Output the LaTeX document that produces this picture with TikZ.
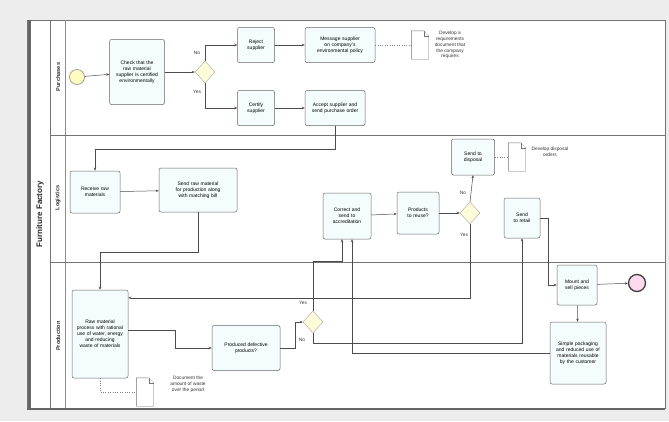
\documentclass[tikz,border=0pt]{standalone}
\usepackage{fontspec}
\setmainfont{Liberation Sans}
\usetikzlibrary{arrows.meta,calc,shapes.geometric}
\hyphenpenalty=10000
\exhyphenpenalty=10000
\begin{document}
\begin{tikzpicture}[x=1pt,y=-1pt,
  task/.style={draw=black!60,rounded corners=2pt,fill=cyan!4,align=center,
    font=\fontsize{5}{6}\selectfont,inner sep=1pt,line width=0.5pt},
  gw/.style={diamond,draw=black!35,fill=yellow!15,minimum width=20pt,minimum height=22pt,inner sep=0pt},
  flow/.style={draw=black!70,line width=0.5pt,-{Stealth[length=3pt,width=2.5pt]}},
  assoc/.style={draw=black!50,line width=0.4pt,dotted},
  lbl/.style={font=\fontsize{4.8}{5}\selectfont,text=black!80},
  doctext/.style={font=\fontsize{4.8}{5.8}\selectfont,align=center,text=black!80},
  docbox/.style={minimum width=17pt,minimum height=28pt,inner sep=0pt},
  docline/.style={draw=black!55,line width=0.4pt,fill=white},
  lanelbl/.style={rotate=90,font=\fontsize{5.6}{6}\selectfont\bfseries,text=black!80}]
\useasboundingbox (0,0) rectangle (669,421);
\fill[black!7] (0,0) rectangle (669,421);
% pool
\fill[white] (27,20) rectangle (665,408);
\draw[black!55,line width=0.6pt] (27,20) rectangle (665,408);
\draw[black!60,line width=3pt] (29,20) -- (29,408);
\draw[black!55,line width=0.5pt] (50,20) -- (50,408);
\draw[black!45,line width=0.4pt] (65,20) -- (65,408);
\draw[black!55,line width=0.6pt] (50,135) -- (665,135);
\draw[black!55,line width=0.6pt] (50,262) -- (665,262);
\draw[black!60,line width=2pt] (27,409) -- (665,409);
\node[rotate=90,font=\fontsize{8}{9}\selectfont\bfseries,text=black!85] (pool) at (40,214) {Furniture Factory};
\node[lanelbl] (l1) at (58,77) {Purchases};
\node[lanelbl] (l2) at (58,198) {Logistics};
\node[lanelbl] (l3) at (58,336) {Production};
% purchases
\node[circle,draw=black!45,fill=yellow!25,minimum size=15pt,inner sep=0pt,line width=0.6pt] (start) at (77,77) {};
\node[task,minimum width=55pt,minimum height=65pt,text width=46pt] (check) at (137,72) {Check that the raw material supplier is certified environmentally};
\node[gw] (g1) at (205,72) {};
\node[lbl] (g1no) at (197,53) {No};
\node[lbl] (g1yes) at (197,92) {Yes};
\node[task,minimum width=37pt,minimum height=35pt,text width=28pt] (reject) at (256,45) {Reject supplier};
\node[task,minimum width=70pt,minimum height=35pt,text width=54pt] (message) at (340,45) {Message supplier on company's environmental policy};
\node[docbox] (d1) at (420,45) {};
\node[doctext] (d1t) at (450,45) {Develop a\\requirements\\document that\\the company\\requires};
\node[task,minimum width=37pt,minimum height=35pt,text width=28pt] (certify) at (256,108) {Certify supplier};
\node[task,minimum width=60pt,minimum height=35pt,text width=50pt] (accept) at (335,108) {Accept supplier and send purchase order};
% logistics
\node[task,minimum width=50pt,minimum height=42pt,text width=40pt] (receive) at (95,192) {Receive raw materials};
\node[task,minimum width=78pt,minimum height=44pt,text width=60pt] (sendraw) at (198,190) {Send raw material for production along with matching bill};
\node[task,minimum width=48pt,minimum height=46pt,text width=36pt] (correct) at (347,216) {Correct and send to accreditation};
\node[task,minimum width=42pt,minimum height=42pt,text width=34pt] (reuse) at (418,213) {Products to reuse?};
\node[gw] (g2) at (470,213) {};
\node[lbl] (g2no) at (463,193) {No};
\node[lbl] (g2yes) at (464,235) {Yes};
\node[task,minimum width=43pt,minimum height=36pt,text width=34pt] (disposal) at (473,157) {Send to disposal};
\node[docbox] (d2) at (517,157) {};
\node[doctext] (d2t) at (550,152) {Develop disposal\\orders};
\node[task,minimum width=36pt,minimum height=40pt,text width=30pt] (retail) at (522,218) {Send to retail};
% production
\node[task,minimum width=56pt,minimum height=88pt,text width=48pt] (raw) at (100,334) {Raw material process with rational use of water, energy and reducing waste of materials};
\node[task,minimum width=68pt,minimum height=45pt,text width=58pt] (defect) at (246,348) {Produced defective products?};
\node[gw] (g3) at (313,322) {};
\node[lbl] (g3yes) at (303,303) {Yes};
\node[lbl] (g3no) at (302,340) {No};
\node[task,minimum width=40pt,minimum height=40pt,text width=34pt] (mount) at (577,285) {Mount and sell pieces};
\node[circle,draw=black!75,fill=magenta!15,minimum size=17pt,inner sep=0pt,line width=1.3pt] (end) at (637,283) {};
\node[task,minimum width=56pt,minimum height=62pt,text width=52pt] (pack) at (578,353) {Simple packaging and reduced use of materials reusable by the customer};
\node[docbox] (d3) at (145,392) {};
\node[doctext] (d3t) at (188,384) {Document the\\amount of waste\\over the period};
% documents
\foreach \d in {d1,d2,d3}{
  \draw[docline] (\d.south west) -- (\d.north west) -- ($(\d.north east)+(-5,0)$) -- ($(\d.north east)+(0,5)$) -- (\d.south east) -- cycle;
  \draw[docline] ($(\d.north east)+(-5,0)$) -- ($(\d.north east)+(-5,5)$) -- ($(\d.north east)+(0,5)$);
}
% flows purchases
\draw[flow] (start) -- (check);
\draw[flow] (check) -- (g1);
\draw[flow] (g1.north) |- (reject.west);
\draw[flow] (g1.south) |- (certify.west);
\draw[flow] (reject) -- (message);
\draw[assoc] (message.east) -- (d1.west);
\draw[flow] (certify) -- (accept);
\draw[flow] (accept.south) -- ++(0,23) -| (receive.north);
% logistics
\draw[flow] (receive) -- (sendraw);
\draw[flow] (sendraw.south) -- ++(0,40) -| (raw.north);
\draw[flow] (correct) -- (reuse);
\draw[flow] (reuse) -- (g2);
\draw[flow] (g2.north) -- (disposal.south);
\draw[assoc] (disposal.east) -- (d2.west);
\draw[flow] (g2.south) |- ($(raw.north east)+(0,8)$);
\draw[flow] (retail.east) -- ++(8,0) |- (mount.west);
% production
\draw[flow] ($(raw.east)+(0,-4)$) -- ++(47,0) |- (defect.west);
\draw[flow] (defect.east) -- ++(15,0) |- (g3.west);
\draw[flow] (g3.north) -- ++(0,-50) -| ($(correct.south)+(-5,0)$);
\draw[flow] (g3.south) |- ($(retail.south)+(0,105)$) -- (retail.south);
\draw[flow] (pack.west) -| ($(correct.south)+(5,0)$);
\draw[flow] (mount) -- (end);
\draw[flow] (mount) -- (pack);
\draw[assoc] (raw.south) |- (d3.west);
\end{tikzpicture}
\end{document}
